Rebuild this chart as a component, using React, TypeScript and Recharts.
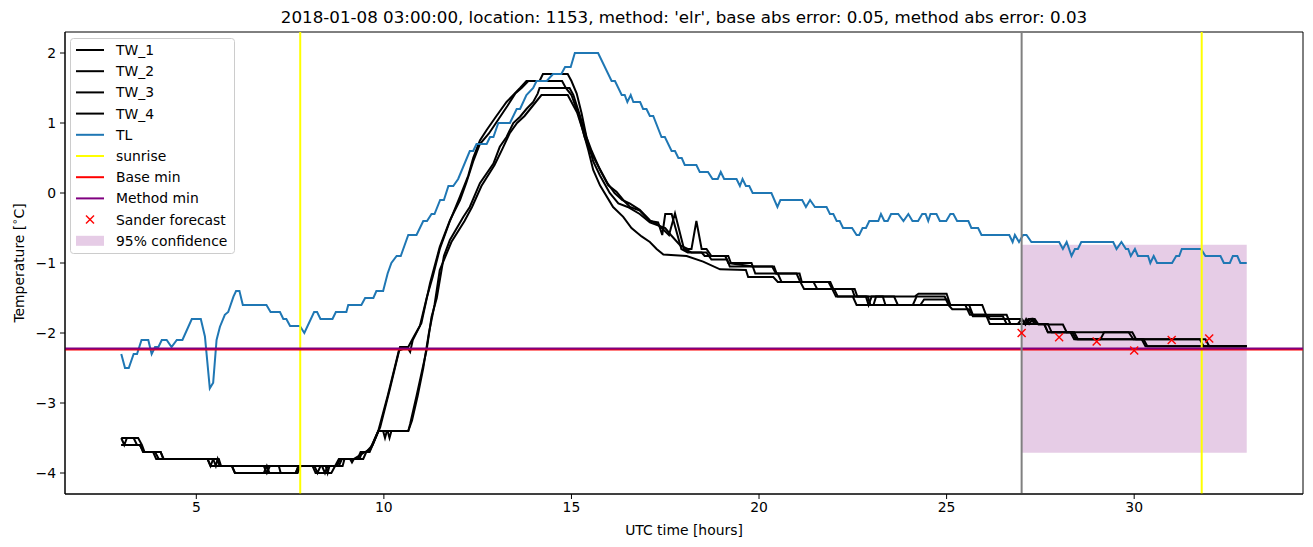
import React from 'react';
import { ComposedChart, Line, Scatter, XAxis, YAxis, ReferenceLine, ReferenceArea, Legend } from 'recharts';

const FONT = '"DejaVu Sans", sans-serif';
const TITLE = "2018-01-08 03:00:00, location: 1153, method: 'elr', base abs error: 0.05, method abs error: 0.03";

// [hour, °C]
const TW_1: [number, number][] = [
  [3.0, -3.5], [3.33, -3.5], [3.42, -3.6], [3.5, -3.6], [3.58, -3.7], [3.85, -3.7], [3.93, -3.8], [5.3, -3.8],
  [5.38, -3.9], [6.8, -3.9], [6.88, -4.0], [6.96, -3.9], [8.15, -3.9], [8.23, -4.0], [8.31, -3.9], [8.75, -3.9],
  [8.83, -3.8], [9.3, -3.8], [9.38, -3.7], [9.62, -3.7], [9.9, -3.35], [10.16, -2.8], [10.43, -2.2], [10.62, -2.2],
  [10.7, -2.27], [10.77, -2.1], [10.96, -1.9], [11.14, -1.5], [11.3, -1.2], [11.49, -0.8], [11.76, -0.4], [12.03, -0.05],
  [12.25, 0.25], [12.38, 0.5], [12.56, 0.75], [12.74, 0.9], [13.0, 1.1], [13.27, 1.3], [13.45, 1.4], [13.63, 1.5],
  [13.8, 1.6], [14.15, 1.6], [14.24, 1.7], [14.9, 1.7], [15.0, 1.6], [15.14, 1.42], [15.27, 1.14], [15.4, 0.8],
  [15.54, 0.6], [15.76, 0.33], [15.98, 0.11], [16.2, 0.02], [16.38, -0.1], [16.56, -0.2], [16.82, -0.25], [17.09, -0.4],
  [17.31, -0.42], [17.42, -0.6], [17.5, -0.3], [17.67, -0.3], [17.93, -0.8], [18.1, -0.85], [18.47, -0.85], [18.55, -0.9],
  [19.1, -0.9], [19.18, -1.0], [19.85, -1.05], [20.4, -1.05], [20.47, -1.15], [21.08, -1.15], [21.14, -1.27], [21.9, -1.27],
  [21.98, -1.37], [22.48, -1.37], [22.55, -1.48], [24.15, -1.48], [24.25, -1.44], [25.0, -1.44], [25.1, -1.6], [25.5, -1.6],
  [25.62, -1.74], [26.05, -1.74], [26.16, -1.8], [27.0, -1.8], [27.1, -1.88], [27.18, -1.8], [27.35, -1.8], [27.45, -1.88],
  [28.1, -1.88], [28.2, -1.99], [29.85, -1.99], [29.98, -2.09], [31.75, -2.09], [31.85, -2.19], [33.0, -2.19],
];

const TW_2: [number, number][] = [
  [3.0, -3.6], [3.5, -3.6], [3.6, -3.7], [4.05, -3.7], [4.13, -3.8], [5.55, -3.8], [5.63, -3.9], [5.95, -3.9],
  [6.03, -4.0], [7.65, -4.0], [7.73, -3.9], [8.35, -3.9], [8.43, -4.0], [8.5, -3.9], [8.8, -3.9], [8.88, -3.8],
  [9.45, -3.8], [9.53, -3.7], [9.7, -3.6], [9.85, -3.4], [10.1, -2.9], [10.4, -2.25], [10.65, -2.2], [10.8, -2.05],
  [11.0, -1.86], [11.23, -1.29], [11.49, -0.77], [11.76, -0.39], [12.03, -0.1], [12.2, 0.15], [12.38, 0.45], [12.56, 0.7],
  [12.8, 0.85], [13.05, 1.05], [13.3, 1.25], [13.5, 1.42], [13.67, 1.5], [13.85, 1.6], [14.75, 1.6], [14.85, 1.5],
  [15.0, 1.4], [15.2, 1.1], [15.35, 0.8], [15.5, 0.6], [15.75, 0.35], [15.95, 0.15], [16.15, 0.0], [16.35, -0.1],
  [16.55, -0.15], [16.82, -0.24], [17.09, -0.39], [17.31, -0.45], [17.6, -0.6], [17.76, -0.29], [18.0, -0.8], [18.2, -0.85],
  [18.6, -0.85], [18.73, -0.95], [19.15, -0.95], [19.22, -1.05], [20.35, -1.05], [20.45, -1.15], [21.0, -1.15], [21.1, -1.27],
  [21.85, -1.27], [21.95, -1.37], [22.55, -1.37], [22.62, -1.48], [22.85, -1.48], [22.92, -1.6], [23.0, -1.48], [23.6, -1.48],
  [23.7, -1.6], [24.1, -1.6], [24.2, -1.48], [24.95, -1.48], [25.05, -1.6], [25.95, -1.6], [26.05, -1.74], [26.6, -1.74],
  [26.7, -1.87], [27.05, -1.87], [27.12, -1.8], [27.2, -1.87], [27.3, -1.8], [27.4, -1.87], [27.7, -1.87], [27.8, -1.99],
  [28.35, -1.99], [28.45, -2.09], [29.1, -2.09], [29.2, -1.99], [29.95, -1.99], [30.05, -2.09], [31.9, -2.09], [32.0, -2.19],
  [33.0, -2.19],
];

const TW_3: [number, number][] = [
  [3.0, -3.5], [3.08, -3.6], [3.15, -3.5], [3.45, -3.5], [3.55, -3.6], [3.62, -3.7], [3.9, -3.7], [4.0, -3.8],
  [5.45, -3.8], [5.52, -3.9], [5.57, -3.8], [5.63, -3.9], [7.2, -3.9], [7.25, -4.0], [7.65, -4.0], [7.72, -3.9],
  [8.45, -3.9], [8.5, -4.0], [8.55, -3.9], [8.9, -3.9], [8.95, -3.8], [9.35, -3.8], [9.42, -3.7], [9.6, -3.7],
  [9.85, -3.4], [9.98, -3.4], [10.03, -3.5], [10.08, -3.4], [10.65, -3.4], [10.7, -3.3], [10.87, -2.9], [11.0, -2.58],
  [11.14, -2.24], [11.27, -1.77], [11.41, -1.5], [11.6, -0.9], [11.76, -0.67], [12.12, -0.34], [12.29, -0.2], [12.56, 0.14],
  [12.92, 0.42], [13.09, 0.66], [13.27, 0.8], [13.45, 1.0], [13.63, 1.09], [13.8, 1.2], [13.98, 1.3], [14.1, 1.42],
  [14.15, 1.5], [14.95, 1.5], [15.05, 1.4], [15.23, 1.1], [15.4, 0.8], [15.58, 0.45], [15.76, 0.25], [16.02, 0.0],
  [16.25, -0.15], [16.5, -0.2], [16.82, -0.3], [17.09, -0.42], [17.5, -0.5], [17.65, -0.6], [17.9, -0.75], [18.1, -0.8],
  [18.2, -0.8], [18.33, -0.4], [18.47, -0.8], [18.6, -0.8], [18.73, -0.9], [19.18, -0.9], [19.25, -1.0], [19.8, -1.0],
  [19.9, -1.15], [20.5, -1.15], [20.6, -1.27], [21.45, -1.27], [21.55, -1.37], [22.0, -1.37], [22.1, -1.48], [22.9, -1.48],
  [22.97, -1.6], [23.05, -1.6], [23.12, -1.48], [23.3, -1.48], [23.37, -1.6], [24.3, -1.6], [24.4, -1.52], [25.0, -1.52],
  [25.1, -1.6], [25.6, -1.6], [25.7, -1.74], [26.05, -1.74], [26.15, -1.87], [26.9, -1.87], [27.0, -1.8], [27.1, -1.87],
  [27.25, -1.8], [27.35, -1.87], [27.6, -1.87], [27.7, -1.99], [28.3, -1.99], [28.4, -2.09], [30.2, -2.09], [30.3, -2.19],
  [33.0, -2.19],
];

const TW_4: [number, number][] = [
  [3.0, -3.6], [3.5, -3.6], [3.6, -3.7], [4.05, -3.7], [4.12, -3.8], [5.3, -3.8], [5.38, -3.9], [5.45, -3.8],
  [5.6, -3.8], [5.66, -3.9], [5.95, -3.9], [6.03, -4.0], [6.8, -4.0], [6.88, -3.9], [6.95, -4.0], [7.7, -4.0],
  [7.78, -3.9], [8.1, -3.9], [8.18, -4.0], [8.6, -4.0], [8.7, -3.9], [8.8, -3.8], [9.1, -3.8], [9.15, -3.85],
  [9.2, -3.8], [9.5, -3.7], [9.65, -3.65], [9.85, -3.4], [10.1, -3.4], [10.15, -3.5], [10.2, -3.4], [10.65, -3.4],
  [10.75, -3.25], [10.9, -2.9], [11.05, -2.5], [11.2, -2.0], [11.35, -1.6], [11.49, -1.1], [11.8, -0.7], [12.15, -0.4],
  [12.35, -0.2], [12.6, 0.1], [12.95, 0.4], [13.15, 0.62], [13.35, 0.85], [13.55, 1.0], [13.75, 1.1], [13.9, 1.2],
  [14.05, 1.3], [14.2, 1.4], [14.9, 1.4], [15.0, 1.3], [15.15, 1.15], [15.3, 0.9], [15.45, 0.61], [15.58, 0.33],
  [15.76, 0.11], [16.11, -0.2], [16.38, -0.34], [16.6, -0.5], [16.87, -0.62], [17.09, -0.7], [17.27, -0.8], [17.45, -0.88],
  [18.07, -0.9], [18.51, -0.98], [18.96, -1.09], [19.65, -1.1], [19.71, -1.2], [20.38, -1.2], [20.5, -1.27], [21.1, -1.27],
  [21.2, -1.37], [21.95, -1.37], [22.05, -1.48], [22.5, -1.48], [22.6, -1.6], [25.05, -1.6], [25.15, -1.66], [25.6, -1.66],
  [25.7, -1.76], [26.5, -1.76], [26.6, -1.87], [27.6, -1.87], [27.7, -1.99], [28.4, -1.99], [28.5, -2.09], [30.25, -2.09],
  [30.35, -2.19], [33.0, -2.19],
];

const TL: [number, number][] = [
  [3.0, -2.3], [3.1, -2.5], [3.2, -2.5], [3.33, -2.3], [3.42, -2.3], [3.54, -2.1], [3.72, -2.1], [3.81, -2.3],
  [3.9, -2.2], [3.99, -2.2], [4.08, -2.1], [4.21, -2.1], [4.34, -2.2], [4.48, -2.1], [4.63, -2.1], [4.88, -1.8],
  [5.12, -1.8], [5.23, -2.05], [5.36, -2.79], [5.45, -2.71], [5.54, -2.1], [5.63, -1.91], [5.76, -1.74], [5.85, -1.7],
  [5.99, -1.48], [6.06, -1.4], [6.15, -1.4], [6.24, -1.6], [6.87, -1.6], [6.98, -1.7], [7.23, -1.7], [7.32, -1.8],
  [7.4, -1.8], [7.5, -1.9], [7.76, -1.9], [7.88, -2.0], [8.14, -1.7], [8.22, -1.7], [8.31, -1.8], [8.63, -1.8],
  [8.72, -1.7], [9.0, -1.7], [9.05, -1.6], [9.4, -1.6], [9.5, -1.5], [9.72, -1.5], [9.8, -1.4], [9.98, -1.4],
  [10.1, -1.15], [10.2, -1.0], [10.34, -0.9], [10.45, -0.9], [10.65, -0.6], [10.87, -0.6], [11.05, -0.4], [11.15, -0.4],
  [11.27, -0.3], [11.35, -0.3], [11.5, -0.1], [11.6, -0.1], [11.72, 0.1], [11.85, 0.1], [11.98, 0.2], [12.29, 0.6],
  [12.38, 0.6], [12.47, 0.7], [12.74, 0.7], [12.83, 0.8], [12.92, 0.8], [13.05, 1.0], [13.36, 1.0], [13.54, 1.2],
  [13.63, 1.2], [13.8, 1.4], [13.98, 1.5], [14.07, 1.6], [14.34, 1.6], [14.51, 1.7], [14.73, 1.7], [14.83, 1.8],
  [14.98, 1.8], [15.09, 2.0], [15.71, 2.0], [16.07, 1.6], [16.16, 1.6], [16.34, 1.4], [16.42, 1.4], [16.49, 1.3],
  [16.58, 1.4], [16.65, 1.3], [16.83, 1.3], [16.91, 1.2], [17.0, 1.2], [17.09, 1.1], [17.18, 1.1], [17.4, 0.8],
  [17.49, 0.8], [17.67, 0.6], [17.76, 0.6], [17.85, 0.5], [17.94, 0.5], [18.02, 0.4], [18.33, 0.4], [18.42, 0.3],
  [18.64, 0.3], [18.76, 0.2], [18.9, 0.2], [18.98, 0.3], [19.07, 0.2], [19.4, 0.2], [19.49, 0.1], [19.56, 0.2],
  [19.65, 0.1], [19.74, 0.1], [19.83, 0.0], [20.33, 0.0], [20.49, -0.2], [20.57, -0.1], [21.15, -0.1], [21.25, -0.2],
  [21.36, -0.1], [21.49, -0.2], [21.8, -0.2], [21.89, -0.3], [21.98, -0.3], [22.07, -0.4], [22.15, -0.4], [22.24, -0.5],
  [22.48, -0.5], [22.6, -0.6], [22.67, -0.6], [22.76, -0.5], [22.85, -0.5], [22.94, -0.4], [23.18, -0.4], [23.25, -0.3],
  [23.34, -0.4], [23.43, -0.4], [23.52, -0.3], [23.71, -0.3], [23.85, -0.4], [23.98, -0.3], [24.09, -0.4], [24.24, -0.4],
  [24.35, -0.3], [24.44, -0.3], [24.51, -0.4], [24.57, -0.3], [24.73, -0.3], [24.82, -0.4], [24.99, -0.4], [25.1, -0.3],
  [25.18, -0.3], [25.28, -0.4], [25.58, -0.4], [25.66, -0.5], [25.84, -0.5], [25.93, -0.6], [26.67, -0.6], [26.76, -0.7],
  [26.82, -0.6], [26.93, -0.7], [27.04, -0.6], [27.13, -0.6], [27.26, -0.7], [28.0, -0.7], [28.1, -0.8], [28.2, -0.7],
  [28.33, -0.9], [28.42, -0.8], [28.5, -0.8], [28.59, -0.7], [29.44, -0.7], [29.53, -0.8], [29.66, -0.7], [29.78, -0.8],
  [29.84, -0.8], [29.91, -0.9], [30.02, -0.8], [30.1, -0.9], [30.37, -0.9], [30.43, -1.0], [30.52, -0.9], [30.61, -1.0],
  [31.01, -1.0], [31.12, -0.9], [31.2, -0.9], [31.27, -0.8], [31.78, -0.8], [31.9, -0.9], [32.3, -0.9], [32.39, -1.0],
  [32.55, -1.0], [32.63, -0.9], [32.75, -0.9], [32.83, -1.0], [33.0, -1.0],
];

const SUNRISE_HOURS = [7.77, 31.8];
const ISSUE_HOUR = 27;
const BASE_MIN = -2.235;
const METHOD_MIN = -2.22;
const FORECAST_HOURS = [27, 28, 29, 30, 31, 32];
const FORECAST_VALUES = [-2.0, -2.06, -2.12, -2.25, -2.1, -2.08];
const CONF_HOURS = [27, 33];
const CONF_RANGE = [-3.71, -0.74];
const X_TICKS = [5, 10, 15, 20, 25, 30];
const Y_TICKS = [-4, -3, -2, -1, 0, 1, 2];

const toPoints = (arr: [number, number][]) => arr.map(([t, v]) => ({ t, v }));
const forecast = FORECAST_HOURS.map((t, i) => ({ t, v: FORECAST_VALUES[i] }));

const TW_SERIES = [
  { name: 'TW_1', data: toPoints(TW_1) },
  { name: 'TW_2', data: toPoints(TW_2) },
  { name: 'TW_3', data: toPoints(TW_3) },
  { name: 'TW_4', data: toPoints(TW_4) },
];

const LEGEND_ITEMS = [
  { label: 'TW_1', kind: 'line', color: '#000000' },
  { label: 'TW_2', kind: 'line', color: '#000000' },
  { label: 'TW_3', kind: 'line', color: '#000000' },
  { label: 'TW_4', kind: 'line', color: '#000000' },
  { label: 'TL', kind: 'line', color: '#1f77b4' },
  { label: 'sunrise', kind: 'line', color: '#ffff00' },
  { label: 'Base min', kind: 'line', color: '#ff0000' },
  { label: 'Method min', kind: 'line', color: '#800080' },
  { label: 'Sander forecast', kind: 'marker', color: '#ff0000' },
  { label: '95% confidence', kind: 'patch', color: '#800080' },
];

const XMark = (props: any) => {
  const { cx, cy } = props;
  const s = 4;
  return (
    <g stroke="#ff0000" strokeWidth={1.4}>
      <line x1={cx - s} y1={cy - s} x2={cx + s} y2={cy + s} />
      <line x1={cx - s} y1={cy + s} x2={cx + s} y2={cy - s} />
    </g>
  );
};

const renderLegend = () => (
  <svg width={165} height={216} style={{ display: 'block' }}>
    <rect x={0.5} y={0.5} width={164} height={215} rx={3} fill="#ffffff" fillOpacity={0.8} stroke="#cccccc" />
    {LEGEND_ITEMS.map((it, i) => {
      const y = 12 + i * 21.2;
      return (
        <g key={it.label}>
          {it.kind === 'line' && <line x1={6} y1={y} x2={34} y2={y} stroke={it.color} strokeWidth={2} />}
          {it.kind === 'marker' && <XMark cx={20} cy={y} />}
          {it.kind === 'patch' && <rect x={6} y={y - 5} width={28} height={10} fill={it.color} fillOpacity={0.2} />}
          <text x={46} y={y + 5} fontSize={13.9} fontFamily={FONT} fill="#000">{it.label}</text>
        </g>
      );
    })}
  </svg>
);

const fmtY = (v: number) => (v < 0 ? '\u2212' + Math.abs(v) : String(v));

export default function App() {
  return (
    <div style={{ position: 'absolute', left: 0, top: 0, width: 1313, height: 547, background: '#fff', fontFamily: FONT }}>
      <ComposedChart width={1313} height={547} margin={{ top: 32, right: 10, left: 0, bottom: 0 }}>
        <ReferenceArea x1={CONF_HOURS[0]} x2={CONF_HOURS[1]} y1={CONF_RANGE[0]} y2={CONF_RANGE[1]}
          fill="#800080" fillOpacity={0.2} stroke="none" />
        <XAxis type="number" dataKey="t" domain={[1.5, 34.5]} ticks={X_TICKS} allowDataOverflow height={53}
          tick={{ fill: '#000', fontSize: 13.9, fontFamily: FONT }} tickSize={5} tickMargin={3}
          tickLine={{ stroke: '#000' }} axisLine={{ stroke: '#000' }} />
        <YAxis type="number" dataKey="v" domain={[-4.3, 2.3]} ticks={Y_TICKS} allowDataOverflow width={65}
          tick={{ fill: '#000', fontSize: 13.9, fontFamily: FONT }} tickSize={5} tickMargin={4}
          tickLine={{ stroke: '#000' }} axisLine={{ stroke: '#000' }} tickFormatter={fmtY} />
        {TW_SERIES.map((s) => (
          <Line key={s.name} data={s.data} dataKey="v" name={s.name} stroke="#000000" strokeWidth={2}
            dot={false} isAnimationActive={false} type="linear" />
        ))}
        <Line data={toPoints(TL)} dataKey="v" name="TL" stroke="#1f77b4" strokeWidth={2}
          dot={false} isAnimationActive={false} type="linear" />
        {SUNRISE_HOURS.map((h) => (
          <ReferenceLine key={h} x={h} stroke="#ffff00" strokeWidth={2} />
        ))}
        <ReferenceLine y={BASE_MIN} stroke="#ff0000" strokeWidth={2} />
        <ReferenceLine y={METHOD_MIN} stroke="#800080" strokeWidth={2} />
        <ReferenceLine x={ISSUE_HOUR} stroke="#808080" strokeWidth={2} />
        <Scatter data={forecast} dataKey="v" name="Sander forecast" shape={<XMark />} isAnimationActive={false} />
        <ReferenceArea x1={1.5} x2={34.5} y1={-4.3} y2={2.3} fill="none" stroke="#000" strokeWidth={1} />
        <Legend content={renderLegend} layout="vertical" align="center" verticalAlign="middle"
          wrapperStyle={{ left: 70, top: 38, width: 165, height: 216 }} />
      </ComposedChart>
      <div style={{ position: 'absolute', left: 0, top: 7, width: 1368, textAlign: 'center', fontSize: 16.7, lineHeight: '20px', color: '#000' }}>
        {TITLE}
      </div>
      <div style={{ position: 'absolute', left: 0, top: 521, width: 1368, textAlign: 'center', fontSize: 13.9, lineHeight: '18px', color: '#000' }}>
        UTC time [hours]
      </div>
      <div style={{ position: 'absolute', left: 19, top: 263, width: 0, height: 0 }}>
        <div style={{ position: 'absolute', left: -100, top: -9, width: 200, textAlign: 'center', fontSize: 13.9, lineHeight: '18px', color: '#000', transform: 'rotate(-90deg)' }}>
          Temperature [<sup style={{ fontSize: 10, lineHeight: 0 }}>∘</sup>C]
        </div>
      </div>
    </div>
  );
}
